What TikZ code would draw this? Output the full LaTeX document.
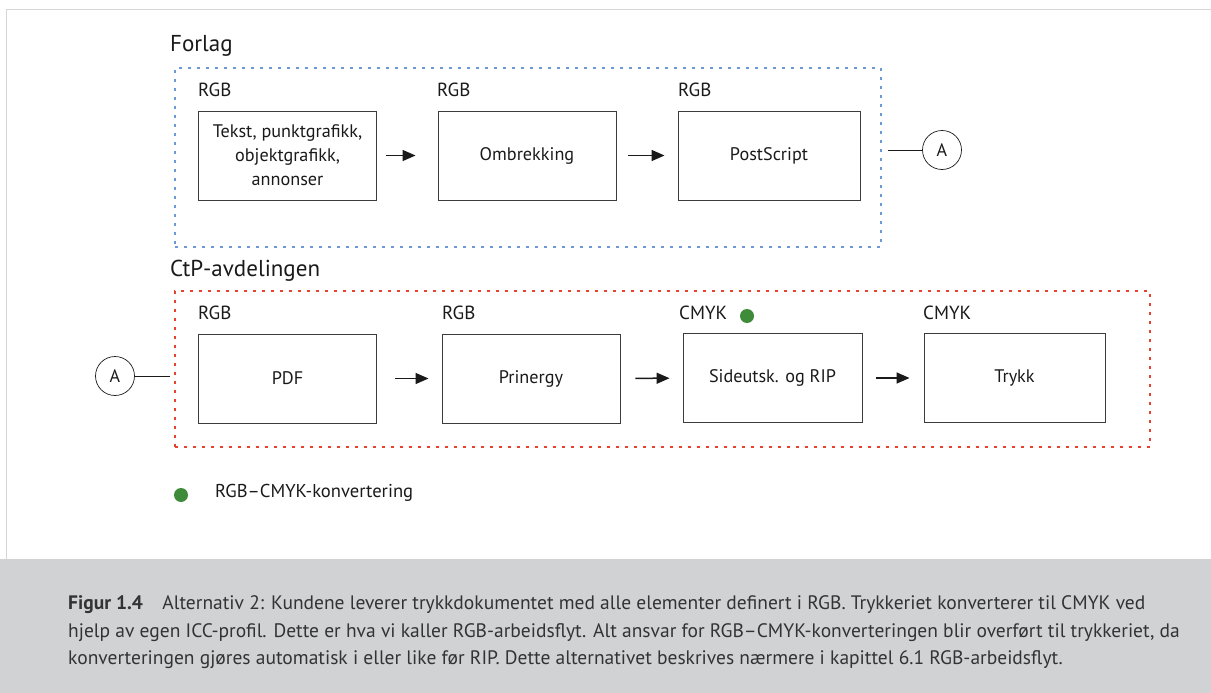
\documentclass[tikz,border=0pt]{standalone}
\usepackage{fontspec}
\setmainfont{PT Sans}
\usetikzlibrary{arrows.meta}
\definecolor{framegray}{HTML}{D6D6D6}
\definecolor{capgray}{HTML}{D1D2D4}
\definecolor{dotblue}{HTML}{6C98D6}
\definecolor{dotred}{HTML}{E8412F}
\definecolor{convgreen}{HTML}{3E8B3A}
\definecolor{ink}{HTML}{1A1A1A}
\definecolor{captext}{HTML}{333333}
\begin{document}
\begin{tikzpicture}[x=1pt,y=-1pt,
  stepbox/.style={draw=ink!85, line width=0.9pt, minimum width=178pt, minimum height=89pt,
    inner sep=0pt, align=center, text=ink, font=\fontsize{18.2}{24}\selectfont},
  space/.style={draw=#1, line width=1.1pt, dash pattern=on 3pt off 6pt, inner sep=0pt},
  tag/.style={anchor=west, inner sep=0pt, text=ink, font=\fontsize{19}{22}\selectfont},
  heading/.style={anchor=base west, inner sep=0pt, text=ink, font=\fontsize{23}{26}\selectfont},
  flow/.style={-{Triangle[length=13pt,width=11pt]}, line width=1.5pt, ink},
  link/.style={draw=ink, line width=0.7pt},
  joint/.style={circle, draw=ink, line width=0.7pt, minimum size=39pt, inner sep=0pt,
    text=ink, font=\fontsize{18}{20}\selectfont},
  conv/.style={circle, fill=convgreen, minimum size=14pt, inner sep=0pt},
  capline/.style={anchor=base west, inner sep=0pt, text=captext, font=\fontsize{19.5}{28}\selectfont}]
\useasboundingbox (0,0) rectangle (1211,693);

% page frame and caption band
\fill[capgray] (0,559) rectangle (1211,693);
\draw[framegray, line width=1pt] (6,559) -- (6,10) -- (1211,10);

% Forlag
\node[heading] (hforlag) at (170,52) {Forlag};
\node[space=dotblue, minimum width=706pt, minimum height=179pt] (forlag) at (528,157.5) {};
\node[tag] (t1) at (198,90) {RGB};
\node[tag] (t2) at (437,90) {RGB};
\node[tag] (t3) at (678,90) {RGB};
\node[stepbox] (b1) at (287.5,155.5) {Tekst, punktgrafikk,\\objektgrafikk,\\annonser};
\node[stepbox] (b2) at (527,155.5) {Ombrekking};
\node[stepbox, minimum width=182pt] (b3) at (769,155.5) {PostScript};
\draw[flow, shorten <=9pt, shorten >=22pt] (b1) -- (b2);
\draw[flow, shorten <=12pt, shorten >=13pt] (b2) -- (b3);
\node[joint] (a1) at (942,150) {A};
\draw[link, shorten <=6pt] (a1.west -| forlag.east) -- (a1.west);

% CtP-avdelingen
\node[heading] (hctp) at (170,276) {CtP-avdelingen};
\node[space=dotred, minimum width=975pt, minimum height=156pt] (ctp) at (662.5,369) {};
\node[tag] (t4) at (198,313) {RGB};
\node[tag] (t5) at (442,313) {RGB};
\node[tag] (t6) at (679,313) {CMYK};
\node[tag] (t7) at (923,313) {CMYK};
\node[conv] (c1) at (747,316) {};
\node[stepbox] (p1) at (287.5,378.5) {PDF};
\node[stepbox] (p2) at (531,378.5) {Prinergy};
\node[stepbox, minimum width=179pt] (p3) at (772.5,378) {Sideutsk. og RIP};
\node[stepbox, minimum width=181pt] (p4) at (1014.5,378) {Trykk};
\draw[flow, shorten <=18pt, shorten >=13pt] (p1) -- (p2);
\draw[flow, shorten <=15pt, shorten >=13pt] (p2) -- (p3);
\draw[flow, shorten <=14pt, shorten >=14pt] (p3) -- (p4);
\node[joint] (a2) at (115,376) {A};
\draw[link, shorten >=4pt] (a2.east) -- (a2.east -| ctp.west);

% legend
\node[conv] (c2) at (181,495) {};
\node[tag, font=\fontsize{18.6}{22}\selectfont] (legend) at (215,493) {RGB–CMYK-konvertering};

% caption
\node[capline] (cap1) at (68,609) {\textbf{Figur 1.4}\hspace{1em}Alternativ 2: Kundene leverer trykkdokumentet med alle elementer definert i RGB. Trykkeriet konverterer til CMYK ved};
\node[capline] (cap2) at (68,637) {hjelp av egen ICC-profil. Dette er hva vi kaller RGB-arbeidsflyt. Alt ansvar for RGB–CMYK-konverteringen blir overført til trykkeriet, da};
\node[capline] (cap3) at (68,664) {konverteringen gjøres automatisk i eller like før RIP. Dette alternativet beskrives nærmere i kapittel 6.1 RGB-arbeidsflyt.};
\end{tikzpicture}
\end{document}
